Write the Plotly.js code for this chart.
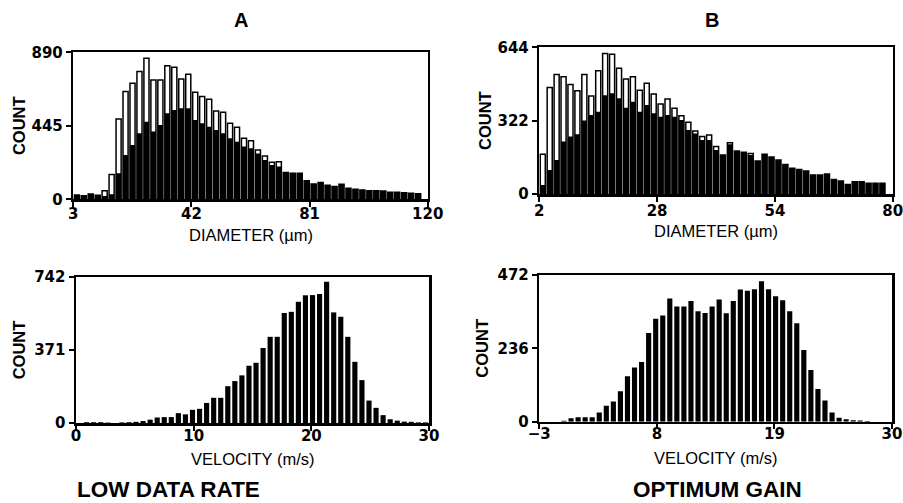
<!DOCTYPE html>
<html>
<head>
<meta charset="utf-8">
<script src="https://cdn.plot.ly/plotly-3.0.1.min.js"></script>
<style>
html,body{margin:0;padding:0;background:#fff;}
#chart{width:903px;height:503px;}
</style>
</head>
<body>
<div id="chart"></div>
<script>
// ---------- DATA ----------
// Panel A (low data rate) – diameter histogram, 50 bins from 3 µm
const diamA_binStart = 3;
const diamA_binWidth = 2.3;
const diamA_all = [26,22,32,24,52,150,486,652,702,773,854,722,722,809,799,728,757,648,622,605,535,527,460,436,369,355,299,262,224,228,163,157,157,113,93,101,85,77,91,67,61,57,52,52,50,42,42,40,36,34];
const diamA_valid = [26,22,32,24,20,30,157,268,329,400,470,410,450,521,541,551,551,480,460,440,420,400,369,349,319,309,278,238,208,198,163,157,157,113,93,101,85,77,91,67,61,57,52,52,50,42,42,40,36,34];

// Panel B (optimum gain) – diameter histogram, 50 bins from 2 µm
const diamB_binStart = 2;
const diamB_binWidth = 1.53;
const diamB_all = [174,467,525,515,481,453,525,430,541,617,613,552,505,515,456,486,439,395,417,376,344,315,277,252,259,208,171,225,189,183,178,145,174,162,149,130,113,108,101,83,83,88,64,57,42,54,54,47,47,47];
const diamB_valid = [40,105,149,230,252,262,323,347,361,434,442,420,379,405,361,391,354,339,347,339,325,281,266,237,237,193,171,218,189,183,171,145,174,162,149,130,113,108,101,83,83,88,64,57,42,54,54,47,47,47];

// Panel A – velocity histogram, 50 bins from 0 m/s
const velA_binStart = 0;
const velA_binWidth = 0.6;
const velA = [0,4,4,4,2,0,3,4,6,10,17,28,30,30,50,44,67,72,102,128,128,187,213,242,291,306,381,438,438,559,565,616,649,650,656,718,562,540,438,311,218,114,77,40,19,12,7,6,3,3];

// Panel B – velocity histogram, 50 bins from -3 m/s
const velB_binStart = -3;
const velB_binWidth = 0.66;
const velB = [0,0,0,3,11,14,14,14,30,51,65,98,146,174,192,285,331,342,396,371,371,388,355,350,371,393,349,388,425,421,426,452,426,404,391,355,317,231,166,105,68,30,13,8,5,4,2,0,0,0];

// Axis ranges and tick labels
const diamA_range = [3,120],  diamA_ticks = [3,42,81,120];
const diamB_range = [2,80],   diamB_ticks = [2,28,54,80];
const velA_range = [0,30],    velA_ticks = [0,10,20,30];
const velB_range = [-3,30],   velB_ticks = [-3,8,19,30];
const cntA_top = [0,445,890], cntB_top = [0,322,644];
const cntA_bot = [0,371,742], cntB_bot = [0,236,472];

const panelTitles = ['A','B'];
const panelCaptions = ['LOW DATA RATE','OPTIMUM GAIN'];
const xTitles = ['DIAMETER (µm)','VELOCITY (m/s)'];
const yTitle = 'COUNT';

// ---------- LAYOUT HELPERS ----------
const W = 903, H = 503;
function dx(a,b){return [a/W,b/W];}
function dy(top,bottom){return [1-bottom/H,1-top/H];}

const tickFont = {family:'DejaVu Sans', size:15, color:'#000', weight:'bold'};
const xTitleFont = {family:'Liberation Sans, Arial', size:16.5, color:'#000'};
const yTitleFont = {family:'Liberation Sans, Arial', size:16.5, color:'#000', weight:'bold'};

function xax(domain, range, ticks, anchor, lblOff){
  return {domain:domain, range:range, tickvals:ticks, ticktext:ticks.map(v=>v<0?'\u2212'+Math.abs(v):String(v)),
    anchor:anchor, showgrid:false, zeroline:false, showline:true, linecolor:'#000', linewidth:2.5, mirror:true,
    ticks:'outside', ticklen:5, tickwidth:2, tickcolor:'#000', tickfont:tickFont, ticklabelstandoff:lblOff,
    ticklabeloverflow:'allow', fixedrange:true};
}
function yax(domain, ticks, anchor, stand){
  return {domain:domain, range:[0,ticks[2]], tickvals:ticks, anchor:anchor, showgrid:false, zeroline:false,
    showline:true, linecolor:'#000', linewidth:2.5, mirror:true, ticks:'outside', ticklen:5, tickwidth:2,
    tickcolor:'#000', tickfont:tickFont, title:{text:yTitle, font:yTitleFont, standoff:stand}, fixedrange:true};
}

function openBar(vals, start, width, xa, ya){
  return {type:'bar', y:vals, x0:start+width/2, dx:width, xaxis:xa, yaxis:ya,
    marker:{color:'#fff', line:{color:'#000', width:1.5}}, hoverinfo:'skip', showlegend:false};
}
function fillBar(vals, start, width, xa, ya){
  return {type:'bar', y:vals, x0:start+width/2, dx:width, xaxis:xa, yaxis:ya,
    marker:{color:'#000', line:{width:0}}, hoverinfo:'skip', showlegend:false};
}

const traces = [
  openBar(diamA_all, diamA_binStart, diamA_binWidth, 'x', 'y'),
  fillBar(diamA_valid, diamA_binStart, diamA_binWidth, 'x', 'y'),
  openBar(diamB_all, diamB_binStart, diamB_binWidth, 'x2', 'y2'),
  fillBar(diamB_valid, diamB_binStart, diamB_binWidth, 'x2', 'y2'),
  fillBar(velA, velA_binStart, velA_binWidth, 'x3', 'y3'),
  fillBar(velB, velB_binStart, velB_binWidth, 'x4', 'y4')
];

const capFont = {family:'Liberation Sans, Arial', size:22.5, weight:'bold', color:'#000'};
const ttlFont = {family:'Liberation Sans, Arial', size:20, weight:'bold', color:'#000'};

function note(text, px, py, font){
  return {text:text, x:px/W, y:1-py/H, xref:'paper', yref:'paper', showarrow:false,
    xanchor:'center', yanchor:'middle', font:font};
}

const layout = {
  width:W, height:H, margin:{l:0,r:0,t:0,b:0}, paper_bgcolor:'#fff', plot_bgcolor:'#fff',
  barmode:'overlay', bargap:0.27, showlegend:false,
  xaxis:  xax(dx(73.3,427.7), diamA_range, diamA_ticks, 'y', -6),
  yaxis:  yax(dy(52.3,199.3), cntA_top, 'x', 2),
  xaxis2: xax(dx(539.3,892.7), diamB_range, diamB_ticks, 'y2', -4),
  yaxis2: yax(dy(47.3,194), cntB_top, 'x2', 2),
  xaxis3: xax(dx(76,429), velA_range, velA_ticks, 'y3', -8),
  yaxis3: yax(dy(277,423), cntA_bot, 'x3', 5),
  xaxis4: xax(dx(539.3,892), velB_range, velB_ticks, 'y4', -8),
  yaxis4: yax(dy(275,421.7), cntB_bot, 'x4', 5),
  annotations:[
    note(panelTitles[0], 241, 20, ttlFont),
    note(panelTitles[1], 712, 20, ttlFont),
    note(xTitles[0], 250.5, 235, xTitleFont),
    note(xTitles[0], 716, 231, xTitleFont),
    note(xTitles[1], 252.5, 459, xTitleFont),
    note(xTitles[1], 715.7, 458, xTitleFont),
    note(panelCaptions[0], 168, 489, capFont),
    note(panelCaptions[1], 717, 489, capFont)
  ]
};

Plotly.newPlot('chart', traces, layout, {staticPlot:true, displayModeBar:false});
</script>
</body>
</html>
